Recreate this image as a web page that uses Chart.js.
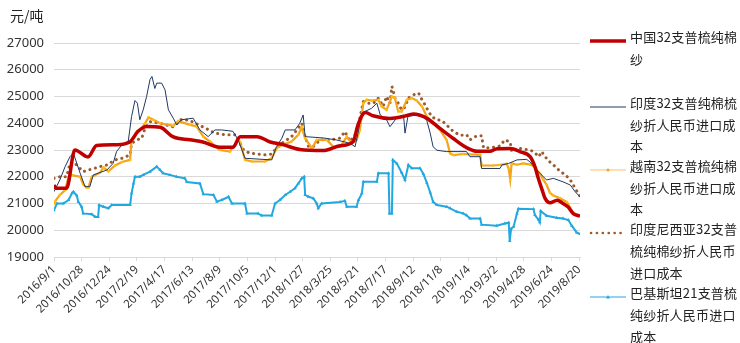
<!DOCTYPE html>
<html>
<head>
<meta charset="utf-8">
<script src="https://cdn.jsdelivr.net/npm/chart.js"></script>
<style>
  body { margin: 0; background: #fff; }
  #wrap { position: relative; width: 740px; height: 343px; }
  #unit { position: absolute; left: 10px; top: 5px; font: 14px "Noto Sans CJK SC", sans-serif; color: #222; }
  .item { position: absolute; left: 630px; font: 13px/21.7px "Noto Sans CJK SC", sans-serif; color: #222; letter-spacing: 0.2px; white-space: nowrap; }
  .sample { position: absolute; left: 588px; width: 40px; height: 10px; }
</style>
</head>
<body>
<div id="wrap">
  <canvas id="c"></canvas>
  <div id="unit">元/吨</div>
</div>
<script>
// x = days since 2016/9/1, y = 元/吨
const tickLabels = ['2016/9/1','2016/10/28','2016/12/24','2017/2/19','2017/4/17','2017/6/13','2017/8/9','2017/10/5','2017/12/1','2018/1/27','2018/3/25','2018/5/21','2018/7/17','2018/9/12','2018/11/8','2019/1/4','2019/3/2','2019/4/28','2019/6/24','2019/8/20'];
const tickDays = tickLabels.map((_, i) => i * 57);

const seriesNames = [
  ['中国32支普梳纯棉', '纱'],
  ['印度32支普纯棉梳', '纱折人民币进口成', '本'],
  ['越南32支普梳纯棉', '纱折人民币进口成', '本'],
  ['印度尼西亚32支普', '梳纯棉纱折人民币', '进口成本'],
  ['巴基斯坦21支普梳', '纯纱折人民币进口', '成本']
];

const china = [[0,21690],[4,21570],[26,21570],[43,23000],[70,22740],[88,23170],[129,23200],[157,23310],[173,23690],[191,23880],[219,23850],[245,23500],[280,23380],[307,23300],[342,23100],[369,23100],[384,23500],[419,23500],[446,23300],[472,23200],[507,23020],[555,22980],[590,23160],[617,23310],[627,23940],[642,24400],[658,24280],[693,24180],[720,24250],[741,24350],[755,24300],[769,24190],[796,23810],[823,23440],[852,23080],[873,22950],[899,22950],[914,23050],[941,23060],[961,22940],[982,22750],[992,22375],[998,22000],[1007,21500],[1013,21190],[1023,21025],[1038,21125],[1050,21000],[1060,20875],[1071,20625],[1085,20525]];

const india = [[0,21440],[12,21880],[23,22380],[33,22750],[40,22880],[47,22500],[54,22130],[64,21630],[74,21630],[81,22070],[109,22250],[122,22500],[129,22940],[140,23190],[153,23310],[160,24250],[167,24850],[172,24750],[177,24130],[184,24500],[191,25000],[198,25630],[202,25750],[208,25300],[212,25500],[222,25500],[229,25250],[236,24500],[246,24190],[253,23940],[263,24130],[287,24190],[301,23750],[318,23500],[332,23750],[346,23750],[369,23700],[380,23375],[394,22690],[449,22630],[459,23130],[470,23440],[477,23750],[497,23750],[507,24000],[514,24310],[518,23500],[556,23450],[583,23375],[611,23250],[621,23120],[627,23630],[635,24380],[655,24560],[666,24750],[673,24310],[686,24130],[693,23870],[707,24200],[721,24310],[724,23630],[730,24250],[748,24310],[762,24250],[769,24100],[776,23630],[782,23120],[790,22990],[810,22940],[851,22940],[858,22750],[879,22750],[882,22310],[920,22310],[924,22440],[938,22500],[955,22630],[975,22650],[982,22550],[996,22250],[1016,21880],[1030,21940],[1050,21810],[1065,21690],[1075,21440],[1085,21250]];

const vietnam = [[0,21000],[2,21070],[12,21320],[23,21500],[30,22000],[37,22060],[54,22000],[60,21720],[67,21600],[71,21600],[78,22000],[95,22150],[102,22350],[112,22200],[126,22420],[140,22550],[157,22630],[160,23380],[171,23690],[181,23820],[188,24000],[195,24220],[205,24130],[219,24000],[246,23900],[256,24080],[281,23940],[294,23880],[308,23500],[322,23310],[342,23000],[363,22940],[369,23120],[380,23375],[384,23300],[394,22630],[408,22570],[435,22570],[449,22690],[459,23060],[470,23190],[490,23320],[504,23570],[511,23850],[518,23440],[532,23060],[542,23375],[563,23375],[576,23120],[590,23120],[604,23500],[614,23250],[624,23375],[631,23750],[638,24750],[645,24880],[655,24850],[669,24870],[676,24630],[686,24500],[697,25000],[703,24950],[710,24440],[717,24440],[728,24880],[738,24940],[748,24850],[759,24630],[769,24250],[782,24000],[796,23750],[810,23375],[817,22870],[824,22810],[844,22850],[858,22840],[879,22820],[882,22420],[906,22420],[917,22440],[934,22480],[938,22300],[941,21900],[944,22500],[955,22450],[968,22500],[982,22460],[989,22400],[996,22250],[1003,22100],[1009,21900],[1016,21700],[1023,21400],[1030,21300],[1044,21200],[1058,21050],[1071,20650],[1085,20530]];

const indonesia = [[0,21940],[12,22000],[26,22000],[33,22500],[40,22560],[50,22380],[60,22190],[71,22250],[81,22300],[95,22380],[109,22440],[126,22630],[140,22690],[157,22820],[160,23250],[171,23380],[181,23440],[188,23820],[198,24060],[219,24000],[246,23860],[263,24150],[281,24100],[291,24000],[312,23820],[332,23630],[353,23570],[373,23570],[380,23380],[391,23000],[404,22880],[435,22820],[449,22850],[459,23070],[470,23250],[490,23500],[504,23820],[511,24000],[518,23500],[525,23130],[535,23130],[549,23380],[569,23380],[590,23440],[600,23690],[611,23320],[621,23570],[628,23940],[638,24810],[648,24750],[659,24750],[669,24940],[679,24630],[686,25000],[693,24750],[697,25380],[700,25190],[703,24950],[710,24750],[717,24500],[724,24600],[731,24940],[741,25060],[752,25130],[759,24880],[765,24700],[769,24560],[779,24250],[790,24130],[800,24100],[813,23880],[824,23690],[838,23550],[851,23570],[858,23380],[872,23530],[882,23530],[886,23080],[899,23080],[920,23150],[930,23380],[941,23300],[944,22940],[955,23070],[968,23040],[979,23000],[989,22950],[1000,22750],[1006,22940],[1013,22750],[1023,22550],[1034,22380],[1044,22200],[1055,22070],[1065,21880],[1075,21570],[1085,21270]];

const pakistan = [[0,20750],[6,21000],[19,21000],[30,21130],[37,21380],[40,21440],[47,21300],[50,21070],[57,20880],[60,20630],[78,20600],[85,20500],[91,20500],[93,20940],[102,20880],[112,20820],[119,20940],[157,20940],[160,21380],[164,21750],[167,22000],[177,22000],[184,22070],[198,22190],[212,22380],[219,22250],[225,22130],[239,22070],[253,22000],[270,21940],[274,21800],[301,21750],[308,21350],[329,21320],[336,21070],[346,21130],[360,21250],[367,21000],[394,21000],[398,20630],[421,20630],[428,20550],[449,20550],[456,21000],[466,21130],[477,21320],[487,21440],[497,21570],[504,21750],[511,21940],[516,22000],[518,21320],[525,21250],[535,21190],[542,21000],[545,20820],[552,21000],[590,21060],[600,21100],[604,20880],[624,20880],[628,21130],[635,21380],[638,21810],[666,21810],[669,22130],[690,22130],[692,20630],[697,20630],[699,22630],[707,22500],[717,22160],[724,21880],[731,22440],[738,22320],[755,22320],[762,22100],[769,21780],[776,21410],[782,21060],[790,20940],[810,20880],[817,20820],[831,20690],[844,20630],[851,20560],[858,20440],[879,20440],[882,20210],[913,20170],[930,20250],[938,20280],[940,19600],[943,20060],[948,20130],[955,20630],[958,20800],[989,20790],[992,20570],[1000,20380],[1002,20300],[1004,20720],[1016,20540],[1037,20470],[1050,20440],[1061,20380],[1068,20170],[1078,19920],[1085,19860]];

const colors = ['#C00000', '#1F3864', '#F5A21E', '#9C5B2E', '#22A8E0'];
const toXY = arr => arr.map(p => ({ x: p[0], y: p[1] }));
const fam = '"Noto Sans", "Noto Sans CJK SC", sans-serif';

new Chart(document.getElementById('c'), {
  type: 'line',
  data: {
    datasets: [
      { label: seriesNames[0].join(''), data: toXY(china), borderColor: colors[0], borderWidth: 3.5, pointRadius: 0, cubicInterpolationMode: 'monotone' },
      { label: seriesNames[1].join(''), data: toXY(india), borderColor: colors[1], borderWidth: 1, pointRadius: 0 },
      { label: seriesNames[2].join(''), data: toXY(vietnam), borderColor: colors[2], borderWidth: 2.2, pointRadius: 1.3, pointBorderWidth: 0, pointBackgroundColor: '#FFC000' },
      { label: seriesNames[3].join(''), data: toXY(indonesia), borderColor: colors[3], borderWidth: 3, borderDash: [0.1, 5.6], borderCapStyle: 'round', pointRadius: 0 },
      { label: seriesNames[4].join(''), data: toXY(pakistan), borderColor: colors[4], borderWidth: 2, pointStyle: 'triangle', pointRadius: 2, pointBorderWidth: 0, pointBackgroundColor: colors[4] }
    ]
  },
  options: {
    responsive: true,
    maintainAspectRatio: false,
    animation: false,
    layout: { padding: { top: 43, right: 160, bottom: 0, left: 0 } },
    plugins: { legend: { display: false }, tooltip: { enabled: false } },
    scales: {
      x: {
        type: 'linear',
        min: 0,
        max: 1085,
        afterBuildTicks: s => { s.ticks = tickDays.map(v => ({ value: v })); },
        afterFit: s => { s.height = 86; },
        ticks: {
          autoSkip: false,
          maxRotation: 45,
          minRotation: 45,
          padding: 2,
          color: '#333',
          font: { family: fam, size: 11.5 },
          callback: (v, i) => tickLabels[i]
        },
        grid: { drawOnChartArea: false, drawTicks: true, tickLength: 4, color: '#d9d9d9' },
        border: { color: '#d9d9d9' }
      },
      y: {
        min: 19000,
        max: 27000,
        afterFit: s => { s.width = 54; },
        ticks: { stepSize: 1000, padding: 10, color: '#333', font: { family: fam, size: 13 }, callback: v => String(v) },
        grid: { color: '#d9d9d9', drawTicks: false },
        border: { display: false }
      }
    }
  }
});

// legend on the right
const wrap = document.getElementById('wrap');
const centers = [37, 102.7, 165.7, 229.3, 293.3];
const sampleSvg = [
  '<line x1="2" y1="5" x2="38" y2="5" stroke="#C00000" stroke-width="3.5"/>',
  '<line x1="2" y1="5" x2="38" y2="5" stroke="#1F3864" stroke-width="1"/>',
  '<line x1="2" y1="5" x2="38" y2="5" stroke="#F5C26A" stroke-width="1"/><circle cx="20" cy="5" r="1.5" fill="#F5A21E"/>',
  '<line x1="3" y1="5" x2="38" y2="5" stroke="#9C5B2E" stroke-width="2.6" stroke-dasharray="0.1 5.8" stroke-linecap="round"/>',
  '<line x1="2" y1="5" x2="38" y2="5" stroke="#22A8E0" stroke-width="1"/><polygon points="20,3 22,6.5 18,6.5" fill="#22A8E0"/>'
];
seriesNames.forEach((lines, i) => {
  const d = document.createElement('div');
  d.className = 'item';
  d.style.top = (centers[i] - 10.85) + 'px';
  d.innerHTML = lines.join('<br>');
  wrap.appendChild(d);
  const s = document.createElement('div');
  s.className = 'sample';
  s.style.top = (centers[i] - 5) + 'px';
  s.innerHTML = '<svg width="40" height="10">' + sampleSvg[i] + '</svg>';
  wrap.appendChild(s);
});
</script>
</body>
</html>
